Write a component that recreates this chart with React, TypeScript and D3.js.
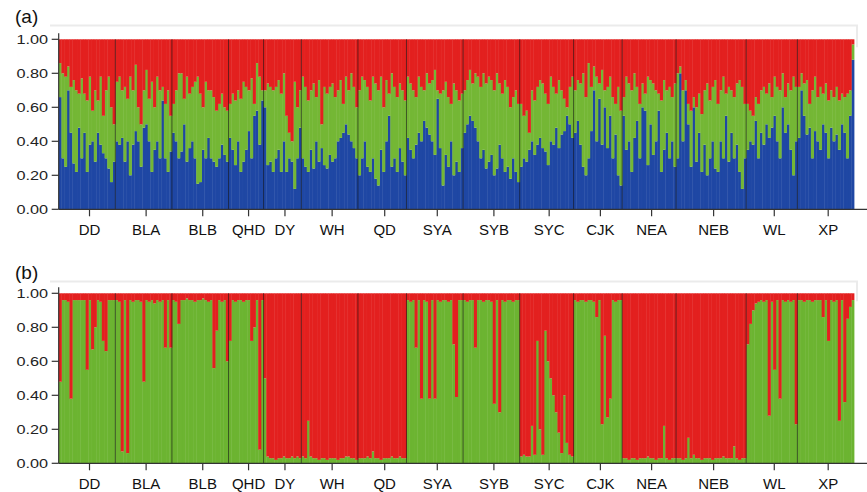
import React from 'react';
import * as d3 from 'd3';

// populations, left to right
const pops = ['DD', 'BLA', 'BLB', 'QHD', 'DY', 'WH', 'QD', 'SYA', 'SYB', 'SYC', 'CJK', 'NEA', 'NEB', 'WL', 'XP'];

// (a) K=3 : blue cluster membership per individual
const blueA = [
  [.66, .30, .25, .70, .45, .27, .22, .48, .30, .45, .22, .38, .40, .28, .45, .38, .33, .30, .24, .16, .28],
  [.40, .38, .42, .28, .40, .20, .38, .46, .40, .25, .48, .50, .40, .22, .35, .40, .30, .64, .30, .22, .34],
  [.45, .40, .30, .34, .50, .28, .36, .40, .30, .15, .16, .35, .30, .42, .30, .28, .25, .30, .38, .32, .28],
  [.42, .35, .26, .40, .22, .28, .35, .46, .30, .55, .58, .38, .64],
  [.60, .26, .28, .22, .30, .35, .22, .40, .22, .30, .28, .12, .30, .48],
  [.30, .25, .22, .35, .24, .40, .28, .36, .26, .24, .32, .28, .30, .40, .42, .45, .50, .44, .40, .36, .30],
  [.20, .30, .40, .25, .22, .30, .18, .14, .35, .22, .40, .55, .25, .30, .22, .36, .28, .20],
  [.42, .35, .30, .38, .45, .40, .52, .48, .44, .40, .32, .65, .36, .14, .32, .25, .40, .20, .28, .22, .36],
  [.45, .50, .55, .52, .48, .40, .30, .35, .24, .28, .32, .20, .24, .38, .30, .22, .25, .18, .30, .22, .16],
  [.25, .30, .28, .35, .40, .32, .38, .42, .36, .34, .26, .40, .38, .48, .36, .44, .46, .55, .50, .42],
  [.45, .52, .38, .25, .20, .30, .46, .70, .40, .65, .38, .60, .36, .55, .30, .44, .20, .14],
  [.55, .35, .40, .22, .42, .52, .30, .60, .58, .26, .50, .32, .40, .58, .22, .35, .45, .30, .40, .25],
  [.30, .80, .40, .70, .50, .25, .60, .28, .45, .22, .38, .20, .30, .40, .24, .22, .40, .30, .55, .28, .45, .30, .38, .22, .12, .30],
  [.35, .40, .38, .52, .30, .45, .38, .50, .42, .48, .55, .40, .30, .60, .45, .50, .35, .20, .40],
  [.42, .70, .55, .44, .48, .30, .46, .40, .35, .50, .45, .30, .48, .40, .44, .35, .50, .45, .30, .55, .88],
];

// (a) K=3 : red cluster membership per individual (green = the rest)
const redA = [
  [.14, .20, .22, .16, .28, .24, .30, .32, .23, .32, .36, .22, .42, .30, .36, .22, .45, .30, .22, .40, .50],
  [.25, .22, .30, .28, .35, .22, .30, .15, .40, .50, .30, .18, .35, .25, .40, .22, .30, .28, .38, .30, .45],
  [.38, .30, .20, .20, .35, .22, .32, .28, .25, .22, .32, .40, .25, .30, .30, .34, .42, .38, .32, .40, .42],
  [.38, .32, .36, .30, .35, .25, .28, .30, .23, .38, .14, .22, .30],
  [.30, .26, .28, .30, .28, .24, .32, .20, .45, .55, .60, .25, .40, .30],
  [.22, .28, .36, .30, .26, .34, .24, .50, .28, .32, .28, .26, .34, .30, .24, .38, .22, .30, .20, .28, .40],
  [.30, .22, .24, .28, .36, .22, .26, .30, .22, .40, .24, .32, .20, .28, .34, .26, .30, .36],
  [.22, .26, .30, .34, .22, .28, .30, .20, .26, .24, .18, .30, .32, .30, .25, .34, .38, .26, .30, .36, .32],
  [.30, .24, .18, .26, .20, .22, .28, .20, .26, .22, .24, .30, .20, .26, .32, .24, .28, .40, .34, .30, .38],
  [.38, .45, .42, .55, .30, .36, .28, .24, .26, .32, .38, .22, .28, .32, .24, .30, .35, .40, .28, .22],
  [.30, .24, .26, .20, .34, .14, .28, .16, .22, .26, .18, .30, .28, .22, .34, .38, .28, .42],
  [.34, .22, .26, .30, .20, .28, .38, .26, .32, .22, .24, .26, .30, .32, .36, .24, .30, .28, .34, .26],
  [.20, .16, .30, .24, .38, .42, .34, .40, .32, .44, .30, .26, .36, .28, .24, .38, .30, .22, .32, .28, .30, .34, .26, .24, .28, .38],
  [.38, .42, .45, .34, .38, .30, .28, .32, .26, .34, .22, .28, .30, .20, .34, .26, .30, .22, .28],
  [.28, .20, .26, .24, .38, .30, .22, .34, .28, .32, .26, .36, .30, .34, .28, .36, .32, .34, .32, .30, .03],
];

// (b) K=2 : green cluster membership per individual (red = the rest)
const greenB = [
  [.48, .96, .96, .95, .38, .96, .96, .96, .96, .96, .55, .96, .67, .80, .96, .95, .72, .66, .96, .96, .96],
  [.96, .95, .07, .96, .06, .96, .95, .96, .96, .95, .48, .96, .95, .96, .94, .96, .95, .96, .68, .96, .68],
  [.96, .95, .82, .96, .96, .97, .96, .96, .95, .96, .96, .97, .96, .95, .96, .56, .78, .96, .95, .96, .60],
  [.72, .96, .95, .96, .96, .95, .96, .96, .72, .80, .96, .08, .96],
  [.50, .04, .03, .03, .02, .03, .03, .04, .03, .03, .04, .03, .04, .03],
  [.04, .03, .25, .04, .03, .03, .02, .03, .03, .02, .03, .03, .03, .02, .03, .03, .04, .04, .03, .03, .02],
  [.03, .03, .03, .04, .03, .07, .03, .03, .02, .03, .03, .03, .04, .03, .03, .04, .03, .03],
  [.96, .95, .96, .68, .96, .38, .96, .95, .38, .96, .38, .96, .95, .96, .96, .95, .96, .70, .39, .96, .96],
  [.96, .95, .96, .96, .68, .96, .96, .95, .96, .96, .95, .35, .96, .30, .96, .95, .96, .96, .95, .96, .96],
  [.04, .05, .04, .04, .22, .05, .72, .20, .05, .78, .60, .50, .40, .30, .18, .06, .40, .12, .05, .04],
  [.96, .95, .96, .96, .95, .96, .96, .95, .86, .96, .23, .75, .27, .38, .96, .95, .96, .96],
  [.03, .03, .02, .03, .03, .02, .03, .03, .03, .04, .03, .03, .02, .03, .03, .22, .03, .02, .03, .03],
  [.03, .03, .02, .03, .15, .03, .05, .03, .03, .02, .03, .03, .03, .02, .03, .03, .03, .04, .03, .03, .03, .10, .03, .02, .03, .03],
  [.70, .82, .90, .94, .95, .96, .95, .96, .28, .95, .55, .96, .38, .96, .95, .96, .95, .96, .23],
  [.96, .96, .95, .96, .96, .95, .96, .96, .96, .86, .96, .72, .96, .95, .96, .25, .96, .36, .85, .92, .96],
];

const yTicks = [0, 0.2, 0.4, 0.6, 0.8, 1.0];

const RED = '#e3201f';
const GREEN_A = '#74b735';
const GREEN_B = '#6cb431';
const BLUE = '#1f47a4';
const FONT = '"Liberation Sans", Arial, sans-serif';

const W = 867;
const H = 492;
const left = 58.7;
const right = 854;

type Row = { pop: number; i: number; [k: string]: number };

function Panel({ rows, keys, colors, x, top, bottom, label, frameY }) {
  const y = d3.scaleLinear().domain([0, 1]).range([bottom, top]);
  const series = d3.stack<Row>().keys(keys)(rows);
  const bw = x.bandwidth();

  // population start indices
  const starts: number[] = [];
  let acc = 0;
  pops.forEach((_, p) => {
    starts.push(acc);
    acc += greenB[p].length;
  });

  return (
    <g>
      <line x1={50} x2={858} y1={frameY} y2={frameY} stroke="#ebebeb" strokeWidth={2} />
      <line x1={857} x2={857} y1={frameY} y2={top + 8} stroke="#ebebeb" strokeWidth={2} />
      <text x={15} y={frameY - 3} fontSize={19} fontFamily={FONT} fill="#111">{label}</text>

      {series.map((s, si) => (
        <g key={si} fill={colors[si]}>
          {s.map((d, j) => (
            <rect
              key={j}
              x={x(j)}
              width={bw + 0.4}
              y={y(Math.min(1, d[1]))}
              height={Math.max(0, y(d[0]) - y(Math.min(1, d[1])))}
            />
          ))}
        </g>
      ))}

      {/* population separators */}
      {starts.slice(1).map((s, k) => (
        <line key={k} x1={x(s)} x2={x(s)} y1={top} y2={bottom} stroke="rgba(20,20,20,0.6)" strokeWidth={1} />
      ))}

      {/* y axis */}
      <line x1={left} x2={left} y1={top - 6} y2={bottom} stroke="#333" strokeWidth={1.2} />
      {yTicks.map((t) => (
        <g key={t}>
          <line x1={left - 7} x2={left} y1={y(t)} y2={y(t)} stroke="#333" strokeWidth={1.2} />
          <text
            transform={`translate(48,${y(t) + 4.6}) scale(1.25,1)`}
            textAnchor="end"
            fontSize={13}
            fontFamily={FONT}
            fill="#222"
          >
            {d3.format('.2f')(t)}
          </text>
        </g>
      ))}

      {/* x axis */}
      <line x1={left} x2={W} y1={bottom} y2={bottom} stroke="#333" strokeWidth={1.2} />
      {pops.map((p, k) => {
        const n = greenB[k].length;
        const cx = (x(starts[k]) as number) + (n * bw) / 2 + 2.5;
        return (
          <g key={p}>
            <line x1={cx} x2={cx} y1={bottom} y2={bottom + 7} stroke="#333" strokeWidth={1.2} />
            <text x={cx} y={bottom + 26} textAnchor="middle" fontSize={15} fontFamily={FONT} fill="#111">
              {p}
            </text>
          </g>
        );
      })}
    </g>
  );
}

export default function App() {
  const rowsA: Row[] = [];
  const rowsB: Row[] = [];
  pops.forEach((_, p) => {
    greenB[p].forEach((g, i) => {
      const b = blueA[p][i] ?? 0.3;
      const r = Math.min(redA[p][i] ?? 0.3, 1 - b);
      rowsA.push({ pop: p, i, blue: b, green: Math.max(0, 1 - b - r), red: r });
      rowsB.push({ pop: p, i, green: g, red: 1 - g });
    });
  });

  const x = d3
    .scaleBand<number>()
    .domain(d3.range(rowsA.length))
    .range([left, right])
    .paddingInner(0);

  return (
    <svg width={W} height={H} style={{ position: 'absolute', left: 0, top: 0, background: '#fff' }}>
      <Panel
        rows={rowsA}
        keys={['blue', 'green', 'red']}
        colors={[BLUE, GREEN_A, RED]}
        x={x}
        top={39.3}
        bottom={209.3}
        label="(a)"
        frameY={25.5}
      />
      <Panel
        rows={rowsB}
        keys={['green', 'red']}
        colors={[GREEN_B, RED]}
        x={x}
        top={293.3}
        bottom={463.3}
        label="(b)"
        frameY={281.5}
      />
    </svg>
  );
}
